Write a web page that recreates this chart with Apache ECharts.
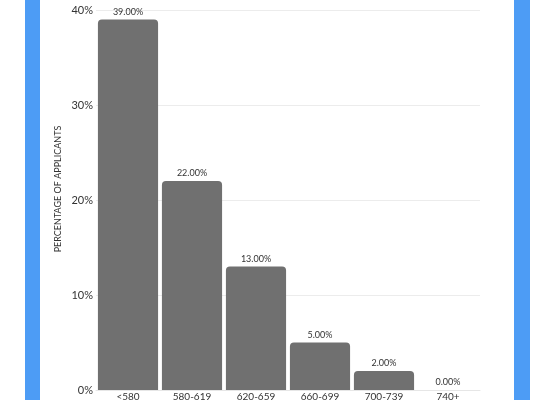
<!DOCTYPE html>
<html><head><meta charset="utf-8">
<script src="https://cdn.jsdelivr.net/npm/echarts@6/dist/echarts.min.js"></script>
<style>
html,body{margin:0;padding:0;background:#fff;}
#wrap{position:relative;width:555px;height:400px;overflow:hidden;background:#fff;}
.stripe{position:absolute;top:0;height:400px;background:#4d9cf5;}
#chart{position:absolute;left:0;top:0;width:555px;height:400px;}
</style></head>
<body>
<div id="wrap">
<div class="stripe" style="left:25px;width:15px;"></div>
<div class="stripe" style="left:514px;width:16px;"></div>
<div id="chart"></div>
</div>
<script>
const categories = ['<580','580-619','620-659','660-699','700-739','740+'];
const percentages = [39, 22, 13, 5, 2, 0];
const yTicks = [0, 10, 20, 30, 40];
const yTitle = 'PERCENTAGE OF APPLICANTS';

const chart = echarts.init(document.getElementById('chart'), null, {renderer:'canvas'});
const font = 'Lato, "Open Sans", sans-serif';
chart.setOption({
  animation:false,
  backgroundColor:'transparent',
  grid:{left:96, right:75, top:10, bottom:10, containLabel:false, outerBoundsMode:'none'},
  xAxis:{
    type:'category', data:categories,
    axisLine:{show:true, lineStyle:{color:'#e6e6e6'}},
    axisTick:{show:false},
    axisLabel:{color:'#333', fontSize:10, fontFamily:font, margin:2}
  },
  yAxis:{
    type:'value', min:yTicks[0], max:yTicks[yTicks.length-1], interval:10,
    name:yTitle, nameLocation:'middle', nameGap:33, nameMoveOverlap:false,
    nameTextStyle:{color:'#333', fontSize:9, fontFamily:font, padding:[0,0,0,22]},
    axisLine:{show:false}, axisTick:{show:false},
    axisLabel:{color:'#333', fontSize:11, fontFamily:font, margin:3, formatter:'{value}%'},
    splitLine:{lineStyle:{color:'#ececec'}}
  },
  series:[{
    type:'bar', data:percentages, barCategoryGap:'6%',
    itemStyle:{color:'#707070', borderRadius:[4,4,0,0]},
    label:{show:true, position:'top', distance:3, color:'#333', fontSize:9, fontFamily:font,
      formatter:p=>p.value.toFixed(2)+'%'}
  }]
});
</script>
</body></html>
